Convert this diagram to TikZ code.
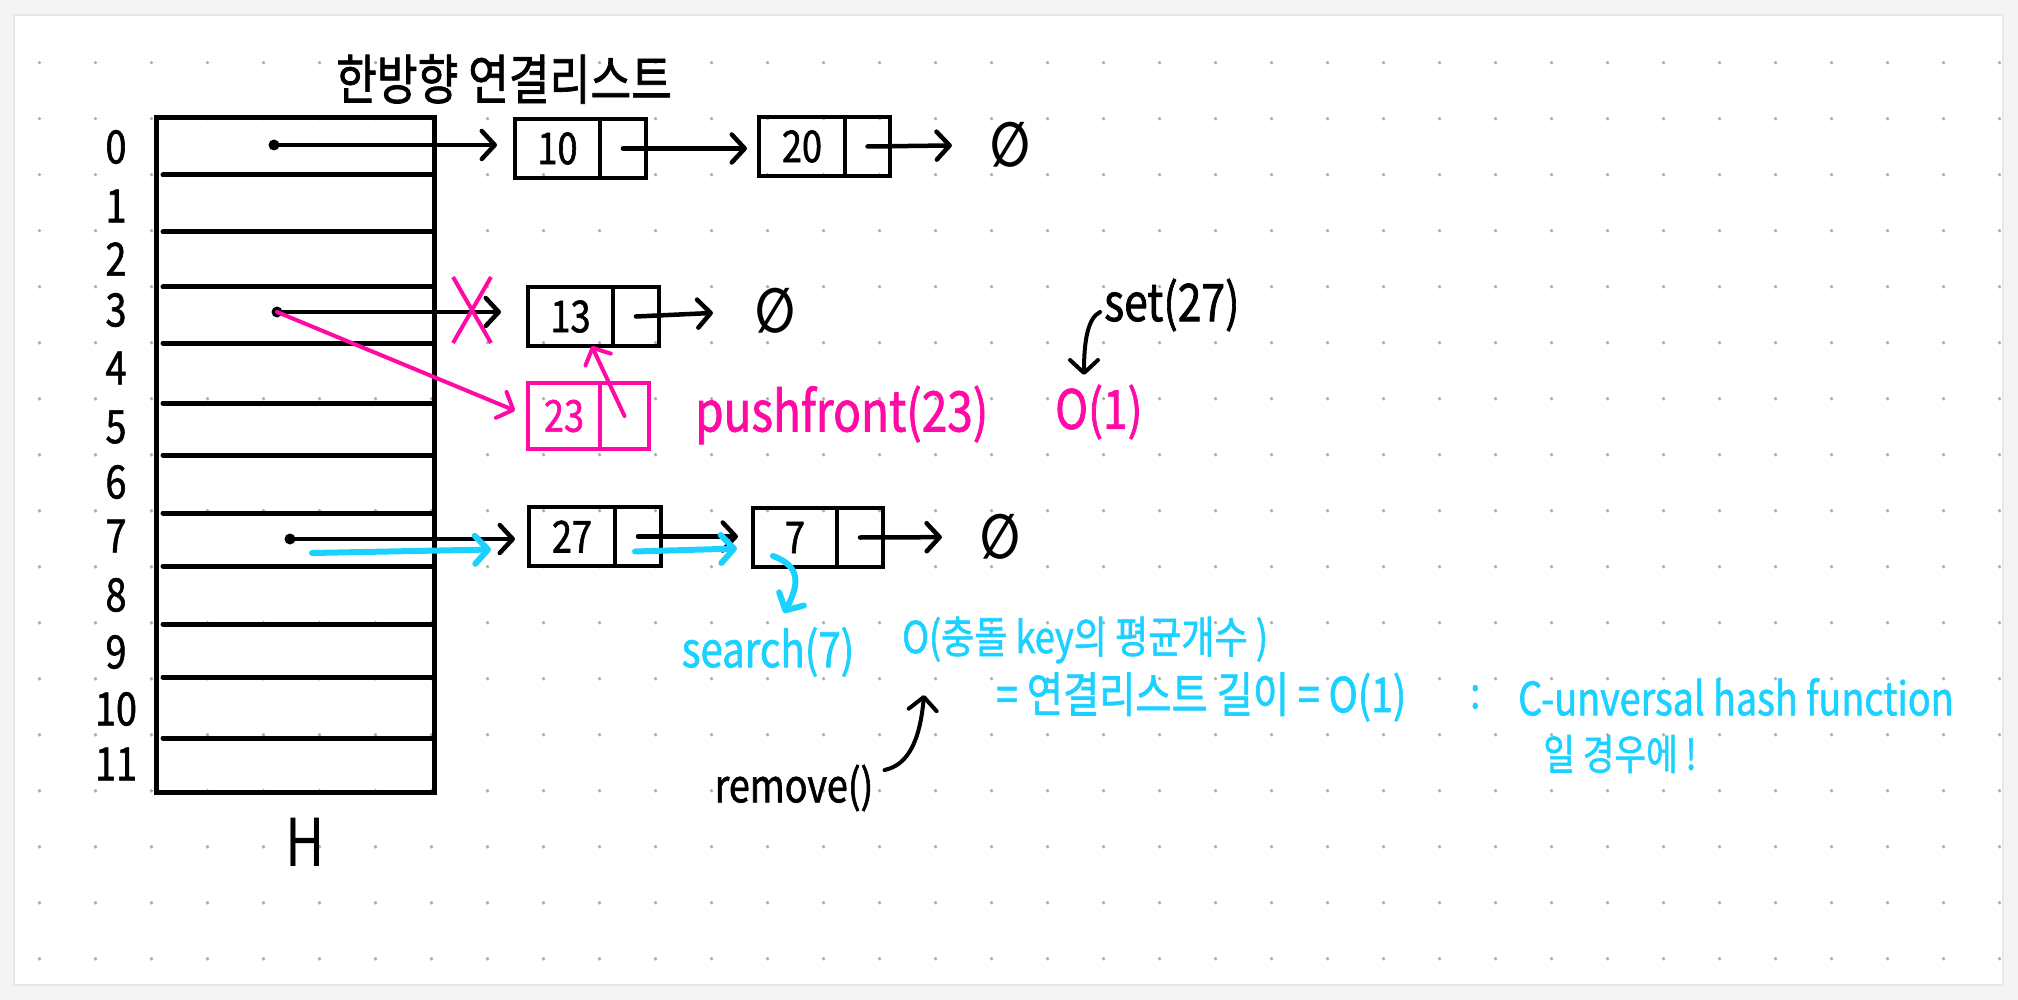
\documentclass[tikz,border=0pt]{standalone}
\usepackage{fontspec}
\setmainfont{Noto Sans CJK KR}[FakeStretch=0.82]
\newfontfamily\handfnt{Noto Sans CJK KR}[FakeStretch=0.82, FakeBold=1.3]
\newfontfamily\symfnt{DejaVu Sans}[FakeStretch=0.75]
\usetikzlibrary{positioning, calc, arrows.meta, shapes.misc}
\definecolor{hotpink}{HTML}{FF0AA5}
\definecolor{skyblue}{HTML}{1AD1FF}
\definecolor{griddot}{HTML}{ABABAB}
\definecolor{paper}{HTML}{F4F4F4}
\newcommand{\txtsize}[1]{\fontsize{#1}{#1}\selectfont}

\begin{document}
\begin{tikzpicture}[x=1pt, y=-1pt,
    tableline/.style={line width=5pt, line cap=round},
    cell/.style={draw, line width=4.5pt, minimum width=85, minimum height=59,
                 inner sep=0pt, outer sep=0pt, font=\handfnt\txtsize{44}},
    ptr/.style={cell, minimum width=46},
    link/.style={line width=4.5pt, line cap=round,
                 -{Straight Barb[length=13pt, width=28pt, round]}},
    pinklink/.style={link, draw=hotpink, line width=4pt},
    cyanlink/.style={link, draw=skyblue, line width=6pt},
    hand/.style={inner sep=0pt, font=\handfnt\txtsize{#1}},
    nullsym/.style={inner sep=0pt, font=\symfnt\bfseries\txtsize{62}},
]

    % Paper with dot grid
    \fill[paper] (0,0) rectangle (2018,1000);
    \useasboundingbox (0,0) rectangle (2018,1000);
    \filldraw[fill=white, draw=black!9, line width=2pt] (14,15) rectangle (2003,985);
    \foreach \i in {0,...,35}
        \foreach \j in {0,...,16}
            \fill[griddot] (39.5+56*\i, 62.7+56*\j) circle (1.8);

    % Hash table H with 12 buckets
    \node[hand=54] (title) at (504,79) {한방향 연결리스트};
    \draw[tableline] (156,118) rectangle (434,792);
    \foreach \y in {175,232,287,343,403,455,513,566,624,677,738}
        \draw[tableline] (163,\y) -- (434,\y);
    \foreach \i/\y in {0/147,1/206,2/259,3/310,4/368,5/427,6/482,7/536,8/595,9/652,10/709,11/764}
        \node[hand=46] (r\i) at (116,\y) {\i};
    \node[inner sep=0pt, font=\txtsize{66}] (hname) at (305,842) {H};

    % Bucket heads
    \coordinate (b0) at (274,145);
    \coordinate (b3) at (277,312);
    \coordinate (b7) at (290,539);
    \foreach \b in {b0,b3,b7}
        \fill (\b) circle (5.5);

    % Bucket 0: 10 -> 20 -> null
    \node[cell] (n10) at (557.5,148.5) {10};
    \node[ptr, right=0pt of n10] (n10p) {};
    \node[cell, minimum width=86] (n20) at (802,146.5) {20};
    \node[ptr, minimum width=45, right=0pt of n20] (n20p) {};
    \node[nullsym] (nil0) at (1010,145) {∅};
    \draw[link, shorten >=18pt] (b0) -- (b0 -| n10.west);
    \draw[link, shorten >=12pt] (n10p.center) -- (n10p.center -| n20.west);
    \draw[link, shorten >=38pt] (n20p.center) -- (nil0.west);

    % Bucket 3: 13 -> null, 23 pushed in front
    \node[cell] (n13) at (570.5,316.5) {13};
    \node[ptr, right=0pt of n13] (n13p) {};
    \node[nullsym] (nil3) at (775,311) {∅};
    \draw[link, shorten >=27pt] (b3) -- (b3 -| n13.west);
    \draw[link, shorten >=42pt] (n13p.center) -- (nil3.west);

    \node[cell, draw=hotpink, text=hotpink, minimum width=72, minimum height=66] (n23) at (564,416) {23};
    \node[ptr, draw=hotpink, minimum width=49, minimum height=66, right=0pt of n23] (n23p) {};
    \node[cross out, draw=hotpink, line width=4pt, minimum width=34, minimum height=62,
          inner sep=0pt] (cut) at (472,310) {};
    \draw[pinklink, shorten >=14pt] (b3) -- (n23.west);
    \draw[pinklink] (n23p.center) -- ($(n13.south)!0.5!(n13.south east)$);
    \node[hand=56, text=hotpink, anchor=west] (push) at (695,415) {pushfront(23)};
    \node[hand=54, text=hotpink, anchor=west] (o1) at (1055,412) {O(1)};

    \node[hand=52, anchor=west] (setop) at (1104,305) {set(27)};
    \coordinate (settip) at (1084,375);
    \draw[link, line width=4pt] ($(setop.west)+(-4,7)$) .. controls +(-12,6) and +(0,-35) .. (settip);

    % Bucket 7: 27 -> 7 -> null, search(7)
    \node[cell, minimum width=86] (n27) at (572,536.5) {27};
    \node[ptr, right=0pt of n27] (n27p) {};
    \node[cell, minimum width=84] (n7) at (795,537.5) {7};
    \node[ptr, right=0pt of n7] (n7p) {};
    \node[nullsym] (nil7) at (1000,537) {∅};
    \draw[link, shorten >=14pt] (b7) -- (b7 -| n27.west);
    \draw[link, shorten >=15pt] (n27p.center) -- (n27p.center -| n7.west);
    \draw[link, shorten >=38pt] (n7p.center) -- (nil7.west);

    \draw[cyanlink] ($(b7)+(22,14)$) -- ($(n27.west)+(-38,13)$);
    \draw[cyanlink] ($(n27p.center)+(-3,15)$) -- ($(n7.west)+(-16,11)$);
    \node[hand=49, text=skyblue] (search) at (768,652) {search(7)};
    \coordinate (searchtip) at (784,613);
    \draw[cyanlink] ($(n7.south west)+(20,-11)$) .. controls +(27,10) and +(16,-30) .. (searchtip);

    % Cost notes
    \node[hand=44, text=skyblue, anchor=west] (oavg) at (902,640) {O(충돌 key의 평균개수 )};
    \node[hand=48, text=skyblue, anchor=west] (eqlen) at (996,697) {= 연결리스트 길이 = O(1)};
    \node[hand=44, text=skyblue, anchor=west] (colon) at (1470,697) {:};
    \node[hand=46, text=skyblue, anchor=west] (cuniv) at (1518,697) {C-unversal hash function};
    \node[hand=42, text=skyblue] (case) at (1620,754) {일 경우에 !};

    \node[hand=46] (rm) at (794,788) {remove()};
    \coordinate (rmtip) at (924,695);
    \draw[link, line width=4pt] ($(rm.east)+(11,-18)$) .. controls +(24,-5) and +(-4,45) .. (rmtip);

\end{tikzpicture}
\end{document}
